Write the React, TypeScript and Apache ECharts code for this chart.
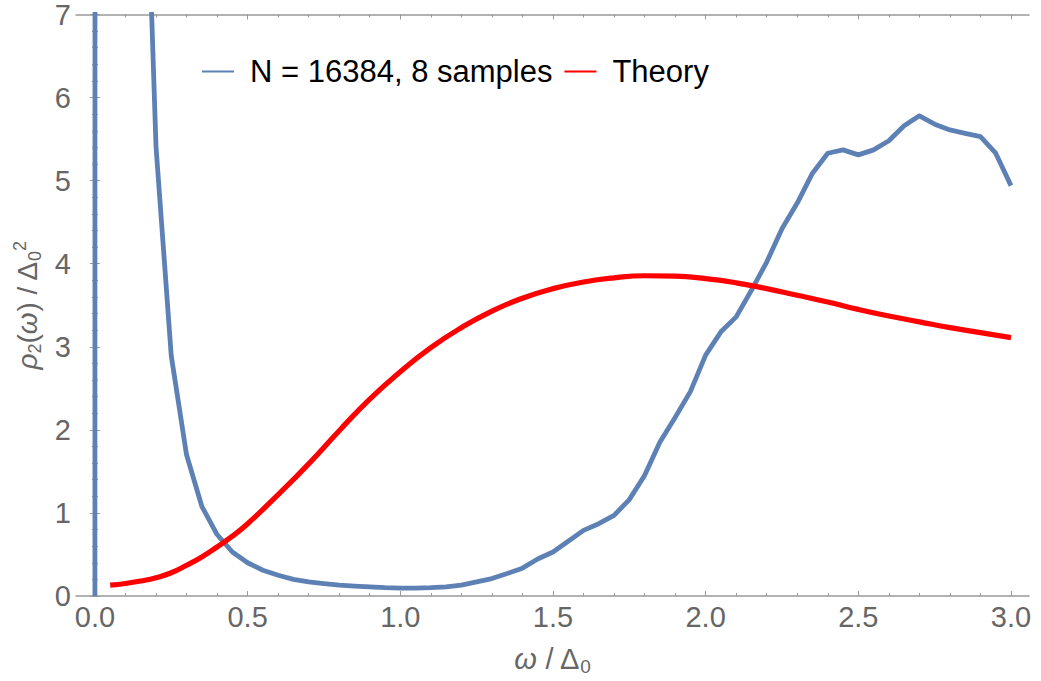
import React, { useEffect, useRef } from "react";
import * as echarts from "echarts";

// Simulation: N = 16384, 8 samples (x step 0.05)
const simX = [
  0.0, 0.05, 0.1, 0.15, 0.2, 0.25, 0.3, 0.35, 0.4, 0.45, 0.5, 0.55, 0.6, 0.65, 0.7, 0.75, 0.8, 0.85, 0.9, 0.95,
  1.0, 1.05, 1.1, 1.15, 1.2, 1.25, 1.3, 1.35, 1.4, 1.45, 1.5, 1.55, 1.6, 1.65, 1.7, 1.75, 1.8, 1.85, 1.9, 1.95,
  2.0, 2.05, 2.1, 2.15, 2.2, 2.25, 2.3, 2.35, 2.4, 2.45, 2.5, 2.55, 2.6, 2.65, 2.7, 2.75, 2.8, 2.85, 2.9, 2.95, 3.0,
];
const simY = [
  0, 2000, 60, 11, 5.41, 2.89, 1.7, 1.08, 0.74, 0.53, 0.4, 0.31, 0.25, 0.2, 0.17, 0.15, 0.13, 0.12, 0.11, 0.1,
  0.095, 0.095, 0.1, 0.11, 0.13, 0.17, 0.21, 0.27, 0.335, 0.445, 0.53, 0.66, 0.79, 0.87, 0.97, 1.16, 1.45, 1.85, 2.15, 2.46,
  2.9, 3.18, 3.36, 3.68, 4.02, 4.42, 4.73, 5.09, 5.33, 5.37, 5.31, 5.37, 5.48, 5.66, 5.78, 5.68, 5.61, 5.57, 5.53, 5.33, 4.94,
];

// Theory curve
const theoryX = [
  0.05, 0.1, 0.15, 0.2, 0.25, 0.3, 0.35, 0.4, 0.45, 0.5, 0.6, 0.7, 0.8, 0.9, 1.0, 1.1, 1.2, 1.3, 1.4, 1.5,
  1.6, 1.7, 1.8, 1.9, 2.0, 2.1, 2.2, 2.3, 2.4, 2.5, 2.6, 2.7, 2.8, 2.9, 3.0,
];
const theoryY = [
  0.13, 0.15, 0.18, 0.22, 0.28, 0.37, 0.47, 0.59, 0.72, 0.87, 1.22, 1.59, 1.99, 2.37, 2.7, 2.99, 3.23, 3.43, 3.585, 3.7,
  3.78, 3.83, 3.855, 3.85, 3.82, 3.77, 3.7, 3.62, 3.54, 3.45, 3.37, 3.3, 3.23, 3.17, 3.11,
];

const xMajorTicks = [0, 0.5, 1.0, 1.5, 2.0, 2.5, 3.0];
const xMinorTicks = [
  0.1, 0.2, 0.3, 0.4, 0.6, 0.7, 0.8, 0.9, 1.1, 1.2, 1.3, 1.4, 1.6, 1.7, 1.8, 1.9, 2.1, 2.2, 2.3, 2.4, 2.6, 2.7, 2.8, 2.9,
];

const SIM_NAME = "N = 16384, 8 samples";
const THEORY_NAME = "Theory";
const BLUE = "#5E81B5";
const RED = "#FF0000";
const FONT = "Liberation Sans";

export default function App() {
  const ref = useRef<HTMLDivElement>(null);
  useEffect(() => {
    if (!ref.current) return;
    const chart = echarts.init(ref.current, null, { renderer: "svg" });
    const xMin = -0.062;
    const xMax = 3.059;
    const gray = "#999";
    const labelColor = "#666";
    const baseX = { type: "value", min: xMin, max: xMax, splitLine: { show: false }, gridIndex: 0, offset: 0 };
    const baseY = { type: "value", min: 0, max: 7, interval: 1, splitLine: { show: false }, gridIndex: 0, offset: 0 };
    chart.setOption({
      animation: false,
      backgroundColor: "#fff",
      grid: { left: 76, right: 12, top: 9.5, bottom: 83.5, containLabel: false },
      legend: {
        left: 197,
        top: 51,
        icon: "rect",
        itemWidth: 32,
        itemHeight: 2,
        itemGap: 12,
        data: [SIM_NAME, THEORY_NAME],
        textStyle: { fontSize: 31, color: "#000", fontFamily: FONT, padding: [0, 0, 0, 11] },
      },
      xAxis: [
        {
          ...baseX,
          position: "bottom",
          axisLine: { show: true, lineStyle: { color: gray, width: 1.5 } },
          axisTick: { show: true, inside: true, length: 5, customValues: xMajorTicks, lineStyle: { color: gray } },
          axisLabel: {
            show: true,
            customValues: xMajorTicks,
            formatter: (v: number) => v.toFixed(1),
            fontSize: 29,
            color: labelColor,
            fontFamily: FONT,
            margin: 6,
          },
          name: "{it|ω} / Δ{sub|0}",
          nameLocation: "middle",
          nameGap: 46,
          nameTextStyle: {
            fontSize: 29,
            color: labelColor,
            fontFamily: FONT,
            rich: {
              it: { fontSize: 29, fontStyle: "italic", color: labelColor, fontFamily: FONT },
              sub: { fontSize: 19, color: labelColor, fontFamily: FONT, padding: [15, 0, 0, 0] },
            },
          },
        },
        {
          ...baseX,
          position: "bottom",
          axisLine: { show: false },
          axisTick: { show: true, inside: true, length: 3, customValues: xMinorTicks, lineStyle: { color: gray } },
          axisLabel: { show: false },
        },
        {
          ...baseX,
          position: "top",
          axisLine: { show: true, lineStyle: { color: gray, width: 1.5 } },
          axisTick: { show: true, inside: true, length: 5, customValues: xMajorTicks, lineStyle: { color: gray } },
          axisLabel: { show: false },
        },
        {
          ...baseX,
          position: "top",
          axisLine: { show: false },
          axisTick: { show: true, inside: true, length: 3, customValues: xMinorTicks, lineStyle: { color: gray } },
          axisLabel: { show: false },
        },
      ],
      yAxis: [
        {
          ...baseY,
          position: "left",
          axisLine: { show: true, lineStyle: { color: gray, width: 1.5 } },
          axisTick: { show: true, inside: true, length: 5, lineStyle: { color: gray } },
          minorTick: { show: true, splitNumber: 5, length: 3, lineStyle: { color: gray } },
          axisLabel: { show: true, fontSize: 29, color: labelColor, fontFamily: FONT, margin: 5 },
          name: "{it|ρ}{sub|2}({it|ω}) / Δ{sub|0}{sup|2}",
          nameLocation: "middle",
          nameRotate: 90,
          nameGap: 27,
          nameTextStyle: {
            fontSize: 28,
            color: labelColor,
            fontFamily: FONT,
            rich: {
              it: { fontSize: 28, fontStyle: "italic", color: labelColor, fontFamily: FONT },
              sub: { fontSize: 18, color: labelColor, fontFamily: FONT, padding: [15, 0, 0, 0] },
              sup: { fontSize: 18, color: labelColor, fontFamily: FONT, padding: [0, 0, 15, 0] },
            },
          },
        },
        {
          ...baseY,
          position: "right",
          axisLine: { show: true, lineStyle: { color: "#333", width: 1.5 } },
          axisTick: { show: true, inside: true, length: 5, lineStyle: { color: gray } },
          minorTick: { show: true, splitNumber: 5, length: 3, lineStyle: { color: gray } },
          axisLabel: { show: false },
        },
      ],
      series: [
        {
          name: SIM_NAME,
          type: "line",
          xAxisIndex: 0,
          yAxisIndex: 0,
          data: simX.map((x, i) => [x, simY[i]]),
          showSymbol: false,
          symbol: "none",
          clip: true,
          color: BLUE,
          lineStyle: { color: BLUE, width: 4.8, join: "round" },
          itemStyle: { color: BLUE },
        },
        {
          name: THEORY_NAME,
          type: "line",
          xAxisIndex: 0,
          yAxisIndex: 0,
          data: theoryX.map((x, i) => [x, theoryY[i]]),
          showSymbol: false,
          symbol: "none",
          smooth: true,
          clip: true,
          color: RED,
          lineStyle: { color: RED, width: 5.2 },
          itemStyle: { color: RED },
        },
      ],
    });
    return () => chart.dispose();
  }, []);
  return (
    <div
      ref={ref}
      style={{ position: "fixed", left: 0, top: 0, width: 1041, height: 681, background: "#fff" }}
    />
  );
}
